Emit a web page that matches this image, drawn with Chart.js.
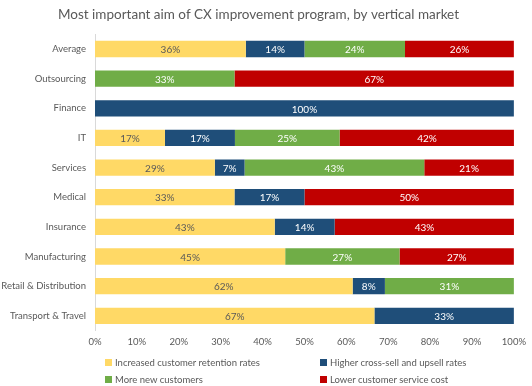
<!DOCTYPE html>
<html>
<head>
<meta charset="utf-8">
<script src="https://cdn.jsdelivr.net/npm/chart.js@4.4.0/dist/chart.umd.min.js"></script>
<style>
  html, body { margin: 0; padding: 0; background: #fff; }
  .wrap { position: relative; width: 532px; height: 386px; }
  #legend { position: absolute; left: 105px; top: 357px; width: 420px; font: 9.5px Lato, "Open Sans", sans-serif; color: #595959; }
  .item { position: absolute; white-space: nowrap; }
  .box { display: inline-block; width: 7px; height: 7px; margin-right: 3px; vertical-align: 0px; }
</style>
</head>
<body>
<div class="wrap">
  <canvas id="chart" width="532" height="386"></canvas>
  <div id="legend"></div>
</div>
<script>
// Datos
const categories = ['Average', 'Outsourcing', 'Finance', 'IT', 'Services', 'Medical', 'Insurance', 'Manufacturing', 'Retail & Distribution', 'Transport & Travel'];
const seriesNames = ['Increased customer retention rates', 'Higher cross-sell and upsell rates', 'More new customers', 'Lower customer service cost'];
const retention = [36, 0, 0, 16.7, 28.6, 33.3, 42.9, 45.4, 61.5, 66.7];
const crossSell = [14, 0, 100, 16.7, 7.1, 16.7, 14.3, 0, 7.7, 33.3];
const newCustomers = [24, 33.3, 0, 25, 42.9, 0, 0, 27.3, 30.8, 0];
const lowerCost = [26, 66.7, 0, 41.7, 21.4, 50, 42.9, 27.3, 0, 0];
const xTicks = [0, 10, 20, 30, 40, 50, 60, 70, 80, 90, 100];

const colors = ['#FFD966', '#1F4E79', '#70AD47', '#C00000'];
const labelColors = ['#595959', '#ffffff', '#ffffff', '#ffffff'];
const font = 'Lato, "Open Sans", sans-serif';

// Etiquetas dentro de las barras
const barLabels = {
  id: 'barLabels',
  afterDatasetsDraw(chart) {
    const ctx = chart.ctx;
    ctx.save();
    ctx.font = '10px ' + font;
    ctx.textAlign = 'center';
    ctx.textBaseline = 'middle';
    chart.data.datasets.forEach((ds, i) => {
      chart.getDatasetMeta(i).data.forEach((bar, j) => {
        const v = ds.data[j];
        if (!v) return;
        ctx.fillStyle = labelColors[i];
        ctx.fillText(Math.round(v) + '%', (bar.x + bar.base) / 2, bar.y + 1);
      });
    });
    ctx.restore();
  }
};

const allData = [retention, crossSell, newCustomers, lowerCost];

new Chart(document.getElementById('chart'), {
  type: 'bar',
  data: {
    labels: categories,
    datasets: allData.map((d, i) => ({
      label: seriesNames[i],
      data: d,
      backgroundColor: colors[i],
      borderWidth: 0,
      categoryPercentage: 0.55,
      barPercentage: 1
    }))
  },
  options: {
    indexAxis: 'y',
    responsive: false,
    animation: false,
    layout: { padding: { left: 0, right: 15, bottom: 32 } },
    scales: {
      x: {
        stacked: true,
        min: 0,
        max: 100,
        afterBuildTicks: axis => { axis.ticks = xTicks.map(v => ({ value: v })); },
        grid: { display: false, drawTicks: false },
        border: { display: false },
        ticks: { color: '#595959', font: { size: 9.5, family: font }, padding: 6, callback: v => v + '%' }
      },
      y: {
        stacked: true,
        afterFit: axis => { axis.width = 95; },
        grid: { display: false, drawTicks: false },
        border: { display: true, color: '#d9d9d9' },
        ticks: { color: '#595959', font: { size: 9.5, family: font }, padding: 9 }
      }
    },
    plugins: {
      legend: { display: false },
      tooltip: { enabled: false },
      title: {
        display: true,
        text: 'Most important aim of CX improvement program, by vertical market',
        color: '#595959',
        font: { size: 13.5, family: font, weight: 'normal' },
        padding: { top: 7, bottom: 11 }
      }
    }
  },
  plugins: [barLabels]
});

// Leyenda
const legend = document.getElementById('legend');
const pos = [[0, 0], [215, 0], [0, 17], [215, 17]];
seriesNames.forEach((name, i) => {
  const el = document.createElement('div');
  el.className = 'item';
  el.style.left = pos[i][0] + 'px';
  el.style.top = pos[i][1] + 'px';
  el.innerHTML = '<span class="box" style="background:' + colors[i] + '"></span>' + name;
  legend.appendChild(el);
});
</script>
</body>
</html>
